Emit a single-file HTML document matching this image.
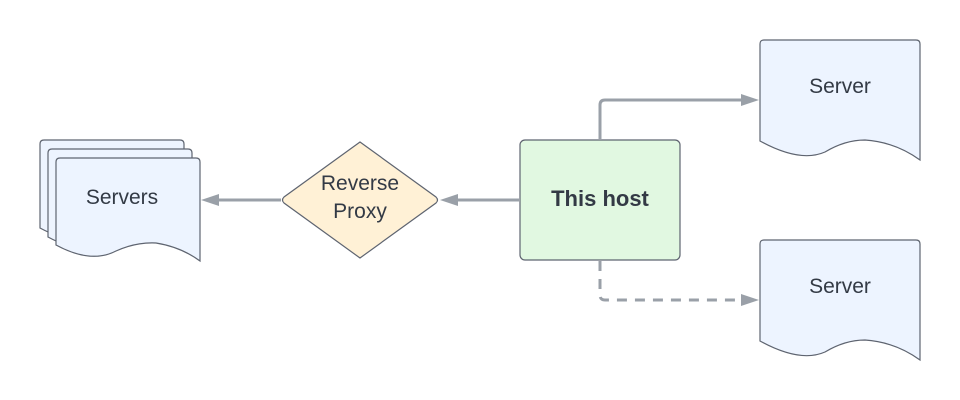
<!DOCTYPE html>
<html><head><meta charset="utf-8"><style>
html,body{margin:0;padding:0;background:#fff;}
svg{display:block;font-family:"Liberation Sans",Arial,sans-serif;}
</style></head><body>
<svg width="960" height="400" viewBox="0 0 960 400" xmlns="http://www.w3.org/2000/svg">
<g fill="#edf4ff" stroke="#5e6470" stroke-width="1.2">
<path d="M44,140 H180 Q184,140 184,144 V244 Q165,230 140,226 Q120,225 100,234 Q75,247 40,228 V144 Q40,140 44,140 Z"/>
<path d="M52,149 H188 Q192,149 192,153 V253 Q173,239 148,235 Q128,234 108,243 Q83,256 48,237 V153 Q48,149 52,149 Z"/>
<path d="M60,158 H196 Q200,158 200,162 V261 Q181,247 156,243 Q136,242 116,251 Q91,264 56,245 V162 Q56,158 60,158 Z"/>
<path d="M764,40 H916 Q920,40 920,44 V160 Q895,142 865,140 Q845,140 825,152 Q800,163 760,141 V44 Q760,40 764,40 Z"/>
<path d="M764,240 H916 Q920,240 920,244 V360 Q895,342 865,340 Q845,340 825,352 Q800,363 760,341 V244 Q760,240 764,240 Z"/>
</g>
<path d="M360,142 L436,197 Q439,200 436,203 L360,258 L284,203 Q281,200 284,197 Z" fill="#fff1d6" stroke="#5e6470" stroke-width="1.2"/>
<rect x="520" y="140" width="160" height="120" rx="5" fill="#e1f8e1" stroke="#5e6470" stroke-width="1.2"/>
<g stroke="#9aa0a8" stroke-width="3" fill="none">
<line x1="519" y1="200" x2="455" y2="200"/>
<line x1="281" y1="200" x2="215" y2="200"/>
<path d="M600,139 V105 Q600,100 605,100 H742"/>
<path d="M600,261 V295 Q600,300 605,300 H742" stroke-dasharray="10,8"/>
</g>
<g fill="#9aa0a8">
<path d="M440,200 L458,194 L458,206 Z"/>
<path d="M201,200 L219,194 L219,206 Z"/>
<path d="M759,100 L741,94 L741,106 Z"/>
<path d="M759,300 L741,294 L741,306 Z"/>
</g>
<g fill="#333a45" font-size="21" text-anchor="middle">
<text x="122" y="204">Servers</text>
<text x="360" y="190">Reverse</text>
<text x="360" y="218">Proxy</text>
<text x="600" y="206" font-weight="bold" font-size="22">This host</text>
<text x="840" y="93">Server</text>
<text x="840" y="293">Server</text>
</g>
</svg>
</body></html>
